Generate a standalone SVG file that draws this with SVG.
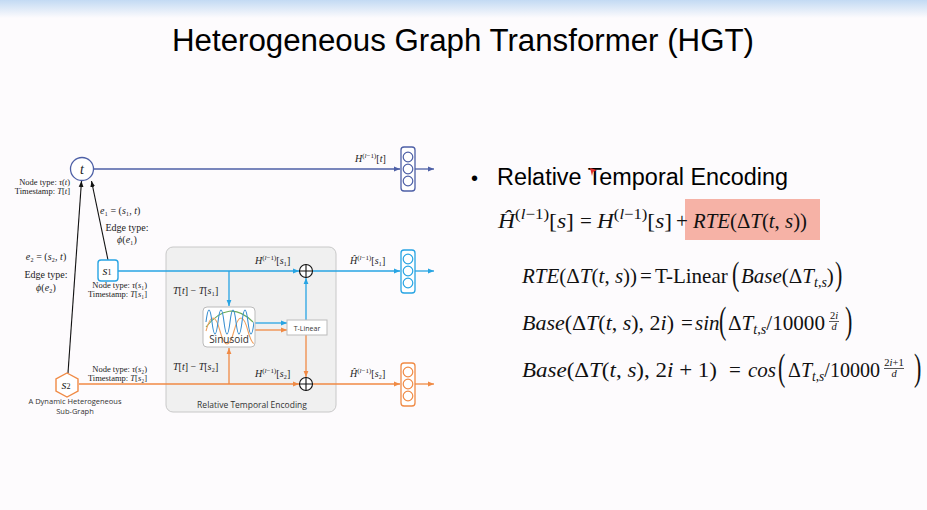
<svg xmlns="http://www.w3.org/2000/svg" width="927" height="510" viewBox="0 0 927 510">
<defs>
<linearGradient id="topg" x1="0" y1="0" x2="0" y2="1"><stop offset="0" stop-color="#c3daf3"/><stop offset="1" stop-color="#fdfbfd"/></linearGradient>
<marker id="aN" viewBox="0 0 10 10" refX="10" refY="5" markerWidth="6" markerHeight="6" orient="auto" markerUnits="userSpaceOnUse"><path d="M0,1 L10,5 L0,9 z" fill="#4d5fa6"/></marker>
<marker id="aB" viewBox="0 0 10 10" refX="10" refY="5" markerWidth="6" markerHeight="6" orient="auto" markerUnits="userSpaceOnUse"><path d="M0,1 L10,5 L0,9 z" fill="#27a4e3"/></marker>
<marker id="aO" viewBox="0 0 10 10" refX="10" refY="5" markerWidth="6" markerHeight="6" orient="auto" markerUnits="userSpaceOnUse"><path d="M0,1 L10,5 L0,9 z" fill="#f08a45"/></marker>
<marker id="aK" viewBox="0 0 10 10" refX="10" refY="5" markerWidth="6" markerHeight="6" orient="auto" markerUnits="userSpaceOnUse"><path d="M0,1 L10,5 L0,9 z" fill="#111"/></marker>
<clipPath id="sinclip"><rect x="204" y="308" width="50" height="38" rx="4"/></clipPath>
<style>
.eq{font-family:"Liberation Serif",serif;font-size:21px;fill:#111}
.fr{font-size:10.5px}
.bp{font-family:"Liberation Serif",serif;font-size:22px;fill:#111}
.i{font-style:italic}
.sp{font-size:15px}
.sb{font-size:14px}
.sm{font-family:"Liberation Serif",serif;font-size:8.5px;fill:#222}
.lb{font-family:"Liberation Serif",serif;font-size:10px;fill:#222}
.hl{font-family:"Liberation Serif",serif;font-size:10px;fill:#222}
.hs{font-size:7px}
.sans{font-family:"Open Sans","Liberation Sans",sans-serif;fill:#333}
.nN{stroke:#4d5fa6}
.nB{stroke:#27a4e3}
.nO{stroke:#f08a45}
.vec{fill:#fff;stroke-width:1.3}
.vc{fill:none;stroke-width:1.2}
.cN{stroke:#4d5fa6;stroke-width:1.3;fill:none}
.cB{stroke:#27a4e3;stroke-width:1.3;fill:none}
.cO{stroke:#f08a45;stroke-width:1.3;fill:none}
.cK{stroke:#111;stroke-width:1.1;fill:none}
</style>
</defs>
<rect x="0" y="0" width="927" height="510" fill="#fdfbfd"/>
<rect x="0" y="0" width="927" height="18" fill="url(#topg)"/>
<text x="463" y="51" text-anchor="middle" font-family="Liberation Sans, Arial, sans-serif" font-size="31" fill="#000" textLength="582" lengthAdjust="spacingAndGlyphs">Heterogeneous Graph Transformer (HGT)</text>

<g id="rte-box">
<rect x="166" y="247" width="170" height="165" rx="7" fill="#f0f0f0" stroke="#c8c8c8" stroke-width="1"/>
<text class="sans" x="252" y="408" text-anchor="middle" font-size="8.5">Relative Temporal Encoding</text>
</g>

<g id="connectors">
<line class="cN" x1="94" y1="169" x2="400" y2="169" marker-end="url(#aN)"/>
<line class="cN" x1="415" y1="169" x2="434" y2="169" marker-end="url(#aN)"/>
<line class="cB" x1="118" y1="271" x2="299" y2="271" marker-end="url(#aB)"/>
<line class="cB" x1="312" y1="271" x2="400" y2="271" marker-end="url(#aB)"/>
<line class="cB" x1="415" y1="271" x2="434" y2="271" marker-end="url(#aB)"/>
<line class="cB" x1="229" y1="271" x2="229" y2="306" marker-end="url(#aB)"/>
<line class="cB" x1="255" y1="323" x2="287" y2="323" marker-end="url(#aB)"/>
<line class="cB" x1="306" y1="320" x2="306" y2="278" marker-end="url(#aB)"/>
<line class="cO" x1="79" y1="384" x2="299" y2="384" marker-end="url(#aO)"/>
<line class="cO" x1="312" y1="384" x2="400" y2="384" marker-end="url(#aO)"/>
<line class="cO" x1="415" y1="384" x2="434" y2="384" marker-end="url(#aO)"/>
<line class="cO" x1="229" y1="384" x2="229" y2="348" marker-end="url(#aO)"/>
<line class="cO" x1="255" y1="330" x2="287" y2="330" marker-end="url(#aO)"/>
<line class="cO" x1="306" y1="335" x2="306" y2="377" marker-end="url(#aO)"/>
<line class="cK" x1="68" y1="373" x2="81.5" y2="181" marker-end="url(#aK)"/>
<line class="cK" x1="108" y1="260" x2="91.5" y2="181" marker-end="url(#aK)"/>
</g>

<g id="node-t">
<circle cx="82" cy="169" r="11.5" fill="#fff" stroke="#4d5fa6" stroke-width="1.3"/>
<text x="82" y="174" text-anchor="middle" font-family="Liberation Serif, serif" font-style="italic" font-size="14" fill="#222">t</text>
<text class="sm" x="70" y="185" text-anchor="end">Node type: <tspan class="i">τ</tspan>(<tspan class="i">t</tspan>)</text>
<text class="sm" x="70" y="194" text-anchor="end">Timestamp: <tspan class="i">T</tspan>[<tspan class="i">t</tspan>]</text>
</g>

<g id="node-s1">
<rect x="98" y="260" width="20" height="21" rx="3" fill="#fff" stroke="#27a4e3" stroke-width="1.4"/>
<text x="107" y="275" text-anchor="middle" font-family="Liberation Serif, serif" font-style="italic" font-size="13" fill="#222">s<tspan font-style="normal" font-size="8">1</tspan></text>
<text class="sm" x="147" y="288" text-anchor="end">Node type: <tspan class="i">τ</tspan>(<tspan class="i">s</tspan>₁)</text>
<text class="sm" x="147" y="297" text-anchor="end">Timestamp: <tspan class="i">T</tspan>[<tspan class="i">s</tspan>₁]</text>
</g>

<g id="node-s2">
<polygon points="67,373 78,379 78,391 67,397 56,391 56,379" fill="#fff" stroke="#f08a45" stroke-width="1.4"/>
<text x="66" y="389" text-anchor="middle" font-family="Liberation Serif, serif" font-style="italic" font-size="13" fill="#222">s<tspan font-style="normal" font-size="8">2</tspan></text>
<text class="sm" x="147" y="372" text-anchor="end">Node type: <tspan class="i">τ</tspan>(<tspan class="i">s</tspan>₂)</text>
<text class="sm" x="147" y="381" text-anchor="end">Timestamp: <tspan class="i">T</tspan>[<tspan class="i">s</tspan>₂]</text>
<text class="sans" x="75" y="404" text-anchor="middle" font-size="7.5">A Dynamic Heterogeneous</text>
<text class="sans" x="75" y="414" text-anchor="middle" font-size="7.5">Sub-Graph</text>
</g>

<g id="edge-labels">
<text class="lb" x="100" y="214"><tspan class="i">e</tspan>₁ = (<tspan class="i">s</tspan>₁, <tspan class="i">t</tspan>)</text>
<text class="lb" x="127" y="231" text-anchor="middle">Edge type:</text>
<text class="lb" x="127" y="243" text-anchor="middle"><tspan class="i">ϕ</tspan>(<tspan class="i">e</tspan>₁)</text>
<text class="lb" x="46" y="260" text-anchor="middle"><tspan class="i">e</tspan>₂ = (<tspan class="i">s</tspan>₂, <tspan class="i">t</tspan>)</text>
<text class="lb" x="46" y="278" text-anchor="middle">Edge type:</text>
<text class="lb" x="46" y="291" text-anchor="middle"><tspan class="i">ϕ</tspan>(<tspan class="i">e</tspan>₂)</text>
</g>

<g id="sinusoid">
<rect x="203" y="307" width="52" height="40" rx="4" fill="#fff" stroke="#bbb" stroke-width="1"/>
<g clip-path="url(#sinclip)" fill="none" stroke-width="1.1">
<path d="M206,327 Q229,298 253,322" stroke="#6aaa5a"/>
<path d="M206,331 q7,-26 14,0 t14,0 t14,0 t14,0" stroke="#f0a060"/>
<path d="M206,322 q3,-24 6,0 t6,0 t6,0 t6,0 t6,0 t6,0 t6,0 t6,0" stroke="#3a8fd0"/>
</g>
<text class="sans" x="229" y="343" text-anchor="middle" font-size="10" fill="#222">Sinusoid</text>
</g>

<g id="t-linear">
<rect x="287" y="320" width="40" height="15" fill="#fff" stroke="#bbb" stroke-width="1"/>
<text class="sans" x="307" y="330.5" text-anchor="middle" font-size="7">T-Linear</text>
</g>

<g id="plus-s1">
<circle cx="306" cy="271" r="6.5" fill="#fff" stroke="#111" stroke-width="1.1"/>
<path d="M299.5,271 H312.5 M306,264.5 V277.5" stroke="#111" stroke-width="1.1"/>
</g>
<g id="plus-s2">
<circle cx="306" cy="384" r="6.5" fill="#fff" stroke="#111" stroke-width="1.1"/>
<path d="M299.5,384 H312.5 M306,377.5 V390.5" stroke="#111" stroke-width="1.1"/>
</g>

<g id="rte-labels">
<text class="lb" x="173" y="294"><tspan class="i">T</tspan>[<tspan class="i">t</tspan>] − <tspan class="i">T</tspan>[<tspan class="i">s</tspan>₁]</text>
<text class="lb" x="173" y="370"><tspan class="i">T</tspan>[<tspan class="i">t</tspan>] − <tspan class="i">T</tspan>[<tspan class="i">s</tspan>₂]</text>
<text class="hl" x="255" y="264"><tspan class="i">H</tspan><tspan class="hs" dy="-4">(<tspan class="i">l</tspan>−1)</tspan><tspan dy="4">[<tspan class="i">s</tspan>₁]</tspan></text>
<text class="hl" x="255" y="377"><tspan class="i">H</tspan><tspan class="hs" dy="-4">(<tspan class="i">l</tspan>−1)</tspan><tspan dy="4">[<tspan class="i">s</tspan>₂]</tspan></text>
</g>

<g id="vec-t">
<rect class="vec nN" x="401" y="147" width="14" height="44" rx="3"/>
<circle class="vc nN" cx="408" cy="157" r="4.8"/><circle class="vc nN" cx="408" cy="169" r="4.8"/><circle class="vc nN" cx="408" cy="181" r="4.8"/>
<text class="hl" x="355" y="162"><tspan class="i">H</tspan><tspan class="hs" dy="-4">(<tspan class="i">l</tspan>−1)</tspan><tspan dy="4">[<tspan class="i">t</tspan>]</tspan></text>
</g>
<g id="vec-s1">
<rect class="vec nB" x="401" y="250" width="14" height="43" rx="3"/>
<circle class="vc nB" cx="408" cy="259" r="4.8"/><circle class="vc nB" cx="408" cy="271" r="4.8"/><circle class="vc nB" cx="408" cy="283" r="4.8"/>
<text class="hl" x="350" y="264"><tspan class="i">Ĥ</tspan><tspan class="hs" dy="-4">(<tspan class="i">l</tspan>−1)</tspan><tspan dy="4">[<tspan class="i">s</tspan>₁]</tspan></text>
</g>
<g id="vec-s2">
<rect class="vec nO" x="401" y="363" width="14" height="43" rx="3"/>
<circle class="vc nO" cx="408" cy="372" r="4.8"/><circle class="vc nO" cx="408" cy="384" r="4.8"/><circle class="vc nO" cx="408" cy="396" r="4.8"/>
<text class="hl" x="350" y="377"><tspan class="i">Ĥ</tspan><tspan class="hs" dy="-4">(<tspan class="i">l</tspan>−1)</tspan><tspan dy="4">[<tspan class="i">s</tspan>₂]</tspan></text>
</g>

<g id="right-text">
<text x="471" y="185" font-family="Liberation Sans, Arial, sans-serif" font-size="20" fill="#000">•</text>
<text x="497" y="185" font-family="Liberation Sans, Arial, sans-serif" font-size="23" fill="#000" textLength="291" lengthAdjust="spacingAndGlyphs">Relative Temporal Encoding</text>
<path d="M590,168 L597,170 L593,172 L592,176 Z" fill="#e0302a"/>

<rect x="685" y="199" width="135" height="41" fill="#f6b2a6"/>
<text class="eq" x="498" y="228" textLength="76" lengthAdjust="spacingAndGlyphs"><tspan class="i">Ĥ</tspan><tspan class="sp" dy="-9">(<tspan class="i">l</tspan>−1)</tspan><tspan dy="9">[<tspan class="i">s</tspan>]</tspan></text>
<text class="eq" x="580" y="228">=</text>
<text class="eq" x="597" y="228" textLength="75" lengthAdjust="spacingAndGlyphs"><tspan class="i">H</tspan><tspan class="sp" dy="-9">(<tspan class="i">l</tspan>−1)</tspan><tspan dy="9">[<tspan class="i">s</tspan>]</tspan></text>
<text class="eq" x="676" y="228">+</text>
<text class="eq" x="693" y="228" fill="#9e1f22" textLength="114" lengthAdjust="spacingAndGlyphs"><tspan class="i">RTE</tspan>(Δ<tspan class="i">T</tspan>(<tspan class="i">t</tspan>, <tspan class="i">s</tspan>))</text>

<text class="eq" x="522" y="283"><tspan class="i">RTE</tspan>(Δ<tspan class="i">T</tspan>(<tspan class="i">t</tspan>, <tspan class="i">s</tspan>))</text>
<text class="eq" x="640" y="283">=</text>
<text class="eq" x="655" y="283">T-Linear</text>
<text class="bp" transform="translate(732,285) scale(1,1.55)">(</text>
<text class="eq" x="741" y="283"><tspan class="i">Base</tspan>(Δ<tspan class="i">T</tspan><tspan class="sb" dy="4"><tspan class="i">t</tspan>,<tspan class="i">s</tspan></tspan><tspan dy="-4">)</tspan></text>
<text class="bp" transform="translate(835,285) scale(1,1.55)">)</text>

<text class="eq" x="522" y="330" textLength="152" lengthAdjust="spacingAndGlyphs"><tspan class="i">Base</tspan>(Δ<tspan class="i">T</tspan>(<tspan class="i">t</tspan>, <tspan class="i">s</tspan>), 2<tspan class="i">i</tspan>)</text>
<text class="eq" x="681" y="330">=</text>
<text class="eq i" x="695" y="330">sin</text>
<text class="bp" transform="translate(719,333) scale(1,1.7)">(</text>
<text class="eq" x="728" y="330" textLength="97" lengthAdjust="spacingAndGlyphs">Δ<tspan class="i">T</tspan><tspan class="sb" dy="4"><tspan class="i">t</tspan>,<tspan class="i">s</tspan></tspan><tspan dy="-4">/10000</tspan></text>
<text class="eq fr" x="834" y="319" text-anchor="middle">2<tspan class="i">i</tspan></text>
<line x1="829" y1="321.5" x2="839" y2="321.5" stroke="#111" stroke-width="0.7"/>
<text class="eq fr i" x="834" y="329.5" text-anchor="middle">d</text>
<text class="bp" transform="translate(845,333) scale(1,1.7)">)</text>

<text class="eq" x="522" y="377" textLength="195" lengthAdjust="spacingAndGlyphs"><tspan class="i">Base</tspan>(Δ<tspan class="i">T</tspan>(<tspan class="i">t</tspan>, <tspan class="i">s</tspan>), 2<tspan class="i">i</tspan> + 1)</text>
<text class="eq" x="729" y="377">=</text>
<text class="eq i" x="748" y="377">cos</text>
<text class="bp" transform="translate(778,380) scale(1,1.7)">(</text>
<text class="eq" x="788" y="377" textLength="92" lengthAdjust="spacingAndGlyphs">Δ<tspan class="i">T</tspan><tspan class="sb" dy="4"><tspan class="i">t</tspan>,<tspan class="i">s</tspan></tspan><tspan dy="-4">/10000</tspan></text>
<text class="eq fr" x="894" y="366" text-anchor="middle">2<tspan class="i">i</tspan>+1</text>
<line x1="884" y1="368.5" x2="904" y2="368.5" stroke="#111" stroke-width="0.7"/>
<text class="eq fr i" x="894" y="376.5" text-anchor="middle">d</text>
<text class="bp" transform="translate(914,380) scale(1,1.7)">)</text>
</g>
</svg>
